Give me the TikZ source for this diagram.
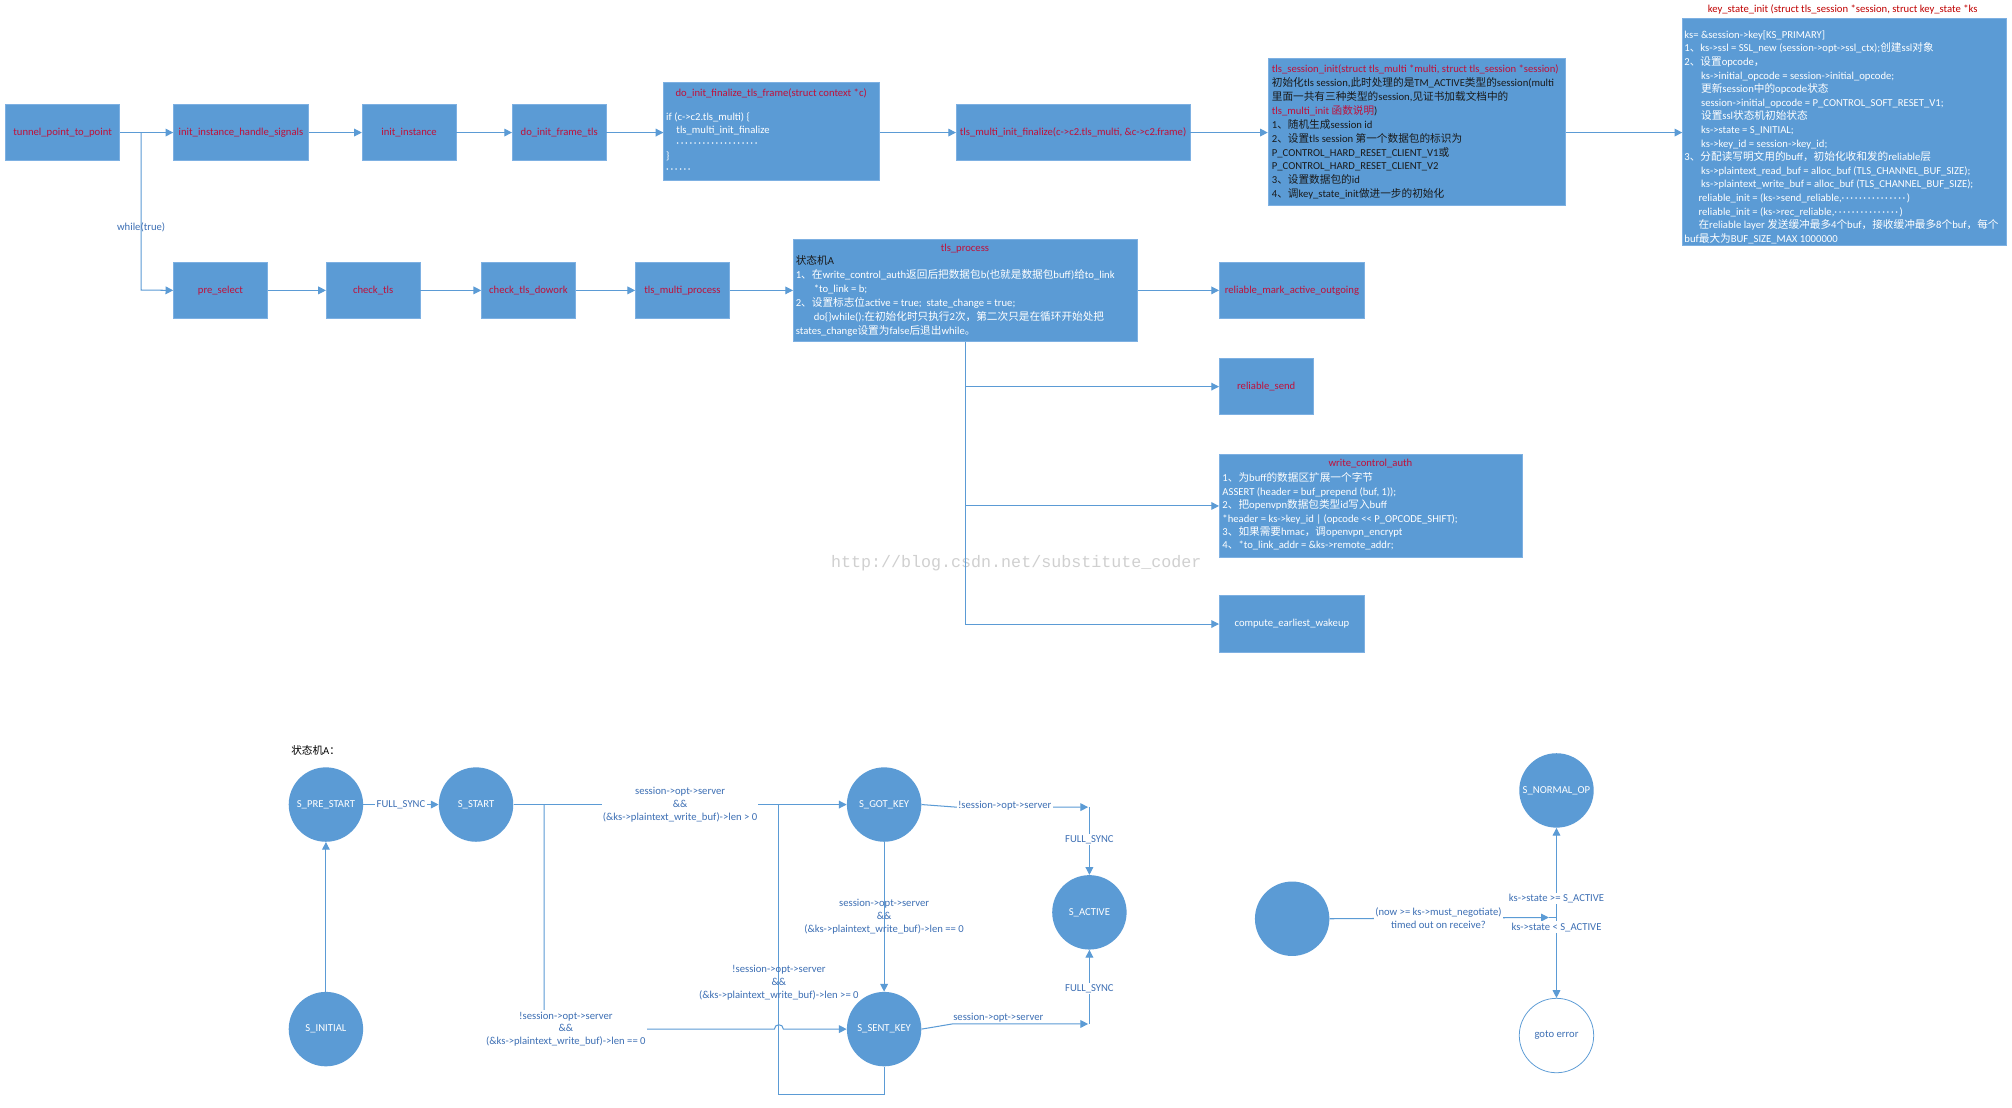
\documentclass[tikz,border=0pt]{standalone}
\usepackage{fontspec}
\setmainfont{Carlito}
\newfontfamily\cjkfont{Noto Sans CJK SC}
\newfontfamily\wmfont{Liberation Mono}
\newcommand\zh[1]{{\cjkfont #1}}
\newcommand\md{·\kern1.3pt}
\usetikzlibrary{arrows.meta}
\definecolor{boxblue}{HTML}{5B9BD5}
\definecolor{boxedge}{HTML}{7DB0E2}
\definecolor{linkblue}{HTML}{5B9BD5}
\definecolor{fnred}{HTML}{C0103A}
\definecolor{titlered}{HTML}{C00000}
\definecolor{lblblue}{HTML}{3D6FB4}
\definecolor{darktext}{HTML}{1A1A1A}
\definecolor{wmgray}{HTML}{D0D0D0}
\newcommand\fs{\fontsize{8.3}{10}\selectfont}
\begin{document}
\begin{tikzpicture}[x=1pt,y=-1pt,
  fnbox/.style={draw=boxedge, fill=boxblue, line width=0.6pt, inner sep=0pt, anchor=north west, font=\fs, text=fnred},
  conn/.style={draw=linkblue, line width=0.8pt, -{Triangle[length=6pt,width=6pt]}},
  plain/.style={draw=linkblue, line width=0.8pt},
  ttl/.style={font=\fs, text=fnred, inner sep=0pt},
  btext/.style={anchor=north west, inner sep=0pt, align=left, text=white},
  state/.style={circle, fill=boxblue, minimum size=58pt, inner sep=0pt, text=white, font=\fs},
  elbl/.style={font=\fs, text=lblblue, align=center, inner sep=1pt},
  elblw/.style={elbl, fill=white}]
\fill[white] (0,0) rectangle (1568,863);
\useasboundingbox (0,0) rectangle (1568,863);

% ---------- watermark ----------
\node[font=\wmfont\fontsize{13}{13}\selectfont, text=wmgray] (wm) at (792,439) {http://blog.csdn.net/substitute\_coder};

% ---------- top row ----------
\node[fnbox, minimum width=89pt, minimum height=44pt] (tp) at (4,81) {tunnel\_point\_to\_point};
\node[fnbox, minimum width=105pt, minimum height=44pt] (iihs) at (135,81) {init\_instance\_handle\_signals};
\node[fnbox, minimum width=73pt, minimum height=44pt] (ii) at (282,81) {init\_instance};
\node[fnbox, minimum width=73pt, minimum height=44pt] (dift) at (399,81) {do\_init\_frame\_tls};
\node[fnbox, minimum width=168pt, minimum height=76pt] (difin) at (517,64) {};
\node[fnbox, minimum width=182pt, minimum height=44pt] (tmif) at (745,81) {tls\_multi\_init\_finalize(c->c2.tls\_multi, \&c->c2.frame)};
\node[fnbox, minimum width=232pt, minimum height=115pt] (tsi) at (988,45) {};
\node[fnbox, minimum width=252pt, minimum height=177pt] (ksi) at (1311,14) {};

\node[ttl] (difinT) at (601,72.5) {do\_init\_finalize\_tls\_frame(struct context *c)};
\node[btext, font=\fontsize{8.3}{10.1}\selectfont] (difinB) at (519,87) {\strut if (c->c2.tls\_multi) \{\\
\hspace*{8pt}tls\_multi\_init\_finalize\\
\hspace*{8pt}\md\md\md\md\md\md\md\md\md\md\md\md\md\md\md\md\md\md\md\\
\}\\
\md\md\md\md\md\md};

\node[btext, text=darktext, font=\fontsize{8.3}{10.8}\selectfont] (tsiB) at (991,49.1) {\strut\textcolor{fnred}{tls\_session\_init(struct tls\_multi *multi, struct tls\_session *session)}\\
\zh{初始化}tls session,\zh{此时处理的是}TM\_ACTIVE\zh{类型的}session(multi\\
\zh{里面一共有三种类型的}session,\zh{见证书加载文档中的}\\
\textcolor{fnred}{tls\_multi\_init \zh{函数说明}})\\
1\zh{、随机生成}session id\\
2\zh{、设置}tls session \zh{第一个数据包的标识为}\\
P\_CONTROL\_HARD\_RESET\_CLIENT\_V1\zh{或}\\
P\_CONTROL\_HARD\_RESET\_CLIENT\_V2\\
3\zh{、设置数据包的}id\\
4\zh{、调}key\_state\_init\zh{做进一步的初始化}};

\node[ttl, text=titlered] (ksiT) at (1436,7.5) {key\_state\_init (struct tls\_session *session, struct key\_state *ks};
\node[btext, font=\fontsize{8.3}{10.6}\selectfont] (ksiB) at (1312.5,22.2) {\strut ks= \&session->key[KS\_PRIMARY]\\
1\zh{、}ks->ssl = SSL\_new (session->opt->ssl\_ctx);\zh{创建}ssl\zh{对象}\\
2\zh{、设置}opcode\zh{，}\\
\hspace*{13pt}ks->initial\_opcode = session->initial\_opcode;\\
\hspace*{13pt}\zh{更新}session\zh{中的}opcode\zh{状态}\\
\hspace*{13pt}session->initial\_opcode = P\_CONTROL\_SOFT\_RESET\_V1;\\
\hspace*{13pt}\zh{设置}ssl\zh{状态机初始状态}\\
\hspace*{13pt}ks->state = S\_INITIAL;\\
\hspace*{13pt}ks->key\_id = session->key\_id;\\
3\zh{、分配读写明文用的}buff\zh{，初始化收和发的}reliable\zh{层}\\
\hspace*{13pt}ks->plaintext\_read\_buf = alloc\_buf (TLS\_CHANNEL\_BUF\_SIZE);\\
\hspace*{13pt}ks->plaintext\_write\_buf = alloc\_buf (TLS\_CHANNEL\_BUF\_SIZE);\\
\hspace*{11pt}reliable\_init = (ks->send\_reliable,\md\md\md\md\md\md\md\md\md\md\md\md\md\md\md)\\
\hspace*{11pt}reliable\_init = (ks->rec\_reliable,\md\md\md\md\md\md\md\md\md\md\md\md\md\md\md)\\
\hspace*{11pt}\zh{在}reliable layer \zh{发送缓冲最多}4\zh{个}buf\zh{，接收缓冲最多}8\zh{个}buf\zh{，每个}\\
buf\zh{最大为}BUF\_SIZE\_MAX 1000000};

\draw[conn] (tp.east) -- (tp.east -| iihs.west);
\draw[conn] (iihs.east) -- (iihs.east -| ii.west);
\draw[conn] (ii.east) -- (ii.east -| dift.west);
\draw[conn] (dift.east) -- (dift.east -| difin.west);
\draw[conn] (difin.east |- tmif.east) -- (tmif.west);
\draw[conn] (tmif.east) -- (tmif.east -| tsi.west);
\draw[conn] (tsi.east |- tmif.east) -- (tmif.east -| ksi.west);

% ---------- second row ----------
\node[fnbox, minimum width=73pt, minimum height=44pt] (ps) at (135,204) {pre\_select};
\node[fnbox, minimum width=73pt, minimum height=44pt] (ct) at (254,204) {check\_tls};
\node[fnbox, minimum width=73pt, minimum height=44pt] (ctd) at (375,204) {check\_tls\_dowork};
\node[fnbox, minimum width=73pt, minimum height=44pt] (tmp) at (495,204) {tls\_multi\_process};
\node[fnbox, minimum width=268pt, minimum height=80pt] (tlsp) at (618,186) {};
\node[fnbox, minimum width=113pt, minimum height=44pt] (rmao) at (950,204) {reliable\_mark\_active\_outgoing};
\node[fnbox, minimum width=73pt, minimum height=44pt] (rs) at (950,279) {reliable\_send};
\node[fnbox, minimum width=236pt, minimum height=80pt] (wca) at (950,354) {};
\node[fnbox, minimum width=113pt, minimum height=44pt, text=white] (cew) at (950,464) {compute\_earliest\_wakeup};

\node[ttl] (tlspT) at (752,193.5) {tls\_process};
\node[btext, font=\fontsize{8.3}{10.85}\selectfont] (tlspB) at (620,198.7) {\strut\textcolor{darktext}{\zh{状态机}A}\\
1\zh{、在}write\_control\_auth\zh{返回后把数据包}b(\zh{也就是数据包}buff)\zh{给}to\_link\\
\hspace*{14pt}*to\_link = b;\\
2\zh{、设置标志位}active = true;\ \ state\_change = true;\\
\hspace*{14pt}do\{\}while();\zh{在初始化时只执行}2\zh{次，第二次只是在循环开始处把}\\
states\_change\zh{设置为}false\zh{后退出}while\zh{。}};

\node[ttl] (wcaT) at (1068,361) {write\_control\_auth};
\node[btext, font=\fontsize{8.3}{10.5}\selectfont] (wcaB) at (952.5,367.75) {\strut 1\zh{、为}buff\zh{的数据区扩展一个字节}\\
ASSERT (header = buf\_prepend (buf, 1));\\
2\zh{、把}openvpn\zh{数据包类型}id\zh{写入}buff\\
*header = ks->key\_id | (opcode <{}< P\_OPCODE\_SHIFT);\\
3\zh{、如果需要}hmac\zh{，调}openvpn\_encrypt\\
4\zh{、}*to\_link\_addr = \&ks->remote\_addr;};

\coordinate (brA) at (110,103);
\coordinate (brB) at (110,226);
\draw[conn] (brA) -- (brB) -- (ps.west);
\node[elbl] (wt) at (110,177) {while(true)};

\draw[conn] (ps.east) -- (ct.west);
\draw[conn] (ct.east) -- (ctd.west);
\draw[conn] (ctd.east) -- (tmp.west);
\draw[conn] (tmp.east) -- (tlsp.west |- tmp.east);
\draw[conn] (tlsp.east |- rmao.west) -- (rmao.west);
\draw[conn] (tlsp.south) -- (tlsp.south |- cew.west) -- (cew.west);
\draw[conn] (tlsp.south |- rs.west) -- (rs.west);
\draw[conn] (tlsp.south |- wca.west) -- (wca.west);

% ---------- state machine ----------
\node[font=\fs, text=black] (smT) at (246,585) {\zh{状态机}A\zh{：}};
\node[state] (pre) at (254,627) {S\_PRE\_START};
\node[state] (start) at (371,627) {S\_START};
\node[state] (init) at (254,802) {S\_INITIAL};
\node[state] (got) at (689,627) {S\_GOT\_KEY};
\node[state] (sent) at (689,802) {S\_SENT\_KEY};
\node[state] (active) at (849,711) {S\_ACTIVE};
\node[state] (blank) at (1007,716) {};
\node[state] (normal) at (1213,616) {S\_NORMAL\_OP};
\node[state, fill=white, draw=linkblue, line width=0.6pt, text=lblblue] (err) at (1213,807) {goto error};

\draw[conn] (init) -- (pre);
\draw[conn] (pre) -- node[elblw] {FULL\_SYNC} (start);
\draw[conn] (start) -- node[elblw] {session->opt->server\\\&\&\\(\&ks->plaintext\_write\_buf)->len > 0} (got);

\coordinate (lpA) at (689,853);
\coordinate (lpB) at (607,853);
\coordinate (lpC) at (607,627);
\draw[plain] (sent.south) -- (lpA) -- (lpB) -- (lpC);
\node[elbl] (lpL) at (607,766) {!session->opt->server\\\&\&\\(\&ks->plaintext\_write\_buf)->len >= 0};

\coordinate (sbA) at (424,627);
\coordinate (sbB) at (424,802);
\coordinate (hopL) at (603.5,802);
\coordinate (hopR) at (610.5,802);
\draw[conn] (sbA) -- (sbB) -- (hopL) .. controls (603.5,797.5) and (610.5,797.5) .. (hopR) -- (sent.west);
\node[elblw] (sbL) at (441,802) {!session->opt->server\\\&\&\\(\&ks->plaintext\_write\_buf)->len == 0};

\draw[conn] (got) -- node[elbl] {session->opt->server\\\&\&\\(\&ks->plaintext\_write\_buf)->len == 0} (sent);

\coordinate (gaB) at (745,629);
\coordinate (gaE) at (848,629);
\coordinate (gaC) at (849,629);
\draw[conn] (got.east) -- (gaB) -- (gaE);
\node[elblw] (gaL) at (783,628) {!session->opt->server};
\draw[conn] (gaC) -- node[elblw, pos=0.48] {FULL\_SYNC} (active.north);

\coordinate (saB) at (742,798);
\coordinate (saE) at (848,798);
\coordinate (saC) at (849,798);
\draw[conn] (sent.east) -- (saB) -- (saE);
\node[elbl] (saL) at (778,793) {session->opt->server};
\draw[conn] (saC) -- node[elblw, pos=0.48] {FULL\_SYNC} (active.south);

\coordinate (jnA) at (1207,715);
\coordinate (jn) at (1213,715);
\draw[conn] (blank.east) -- (jnA);
\draw[plain] (jnA) -- (jn);
\node[elblw] (bkL) at (1121,715.5) {(now >= ks->must\_negotiate)\\timed out on receive?};
\draw[conn] (jn) -- (normal.south);
\draw[conn] (jn) -- (err.north);
\node[elblw] (geL) at (1213,700) {ks->state >= S\_ACTIVE};
\node[elblw] (ltL) at (1213,722.5) {ks->state < S\_ACTIVE};
\end{tikzpicture}
\end{document}
